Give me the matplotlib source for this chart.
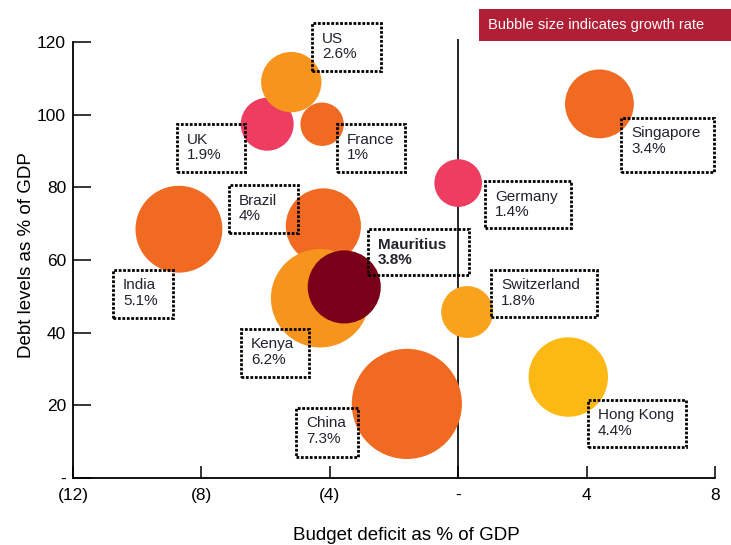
import matplotlib
matplotlib.use('Agg')
import matplotlib.pyplot as plt
from matplotlib.patches import Rectangle

plt.rcParams['font.family'] = ['Liberation Sans', 'DejaVu Sans']

# countries, budget balance (% of GDP), debt (% of GDP), growth (%)
countries = ['UK', 'US', 'France', 'India', 'Brazil', 'Kenya', 'Mauritius',
             'China', 'Germany', 'Singapore', 'Switzerland', 'Hong Kong']
deficit = [-5.95, -5.2, -4.24, -8.7, -4.2, -4.3, -3.55, -1.6, 0.0, 4.4, 0.28, 3.43]
debt = [97.4, 109, 97.4, 68.5, 69.4, 49.5, 52.6, 20.4, 81.2, 103, 45.7, 27.8]
growth = [1.9, 2.6, 1.0, 5.1, 4.0, 6.2, 3.8, 7.3, 1.4, 3.4, 1.8, 4.4]

colors = ['#EE3D60', '#F7941E', '#F06A22', '#F06A22', '#F06A22', '#F7941E',
          '#7A0019', '#F06A22', '#EE3D60', '#F06A22', '#F8A31B', '#FDB913']

# label box corners in data units: left, right, top, bottom
box_left = [-8.75, -4.55, -3.77, -10.75, -7.13, -6.76, -2.80, -5.05, 0.84, 5.08, 1.03, 4.05]
box_right = [-6.64, -2.40, -1.65, -8.88, -4.98, -4.64, 0.34, -3.12, 3.52, 7.98, 4.33, 7.10]
box_top = [97.4, 125.2, 97.4, 57.3, 80.6, 41.0, 68.5, 19.3, 81.7, 99.1, 57.3, 21.5]
box_bottom = [84.2, 112.0, 84.2, 44.0, 67.4, 27.8, 55.9, 5.8, 68.8, 84.2, 44.3, 8.5]

x_ticks = [-12, -8, -4, 0, 4, 8]
x_ticklabels = ['(12)', '(8)', '(4)', '-', '4', '8']
y_ticks = [0, 20, 40, 60, 80, 100, 120]
y_ticklabels = ['-', '20', '40', '60', '80', '100', '120']

W, H, DPI = 731, 545, 100
fig = plt.figure(figsize=(W / DPI, H / DPI), dpi=DPI)
ax = fig.add_axes([73 / W, 67 / H, 642 / W, 454 / H])
ax.set_xlim(-12, 8)
ax.set_ylim(0, 125)

# bubble radius grows linearly with growth rate (pixels -> points)
sizes = [(2 * (16.4 + 5.3 * g) * 72 / DPI) ** 2 for g in growth]
for x, y, s, c in zip(deficit, debt, sizes, colors):
    ax.scatter(x, y, s=s, color=c, edgecolors='none', zorder=3, clip_on=False)

ax.vlines(0, 0, 121, color='black', lw=1.2, zorder=2)

for name, g, l, r, t, b in zip(countries, growth, box_left, box_right, box_top, box_bottom):
    ax.add_patch(Rectangle((l, b), r - l, t - b, fill=False, edgecolor='black',
                           lw=2.0, linestyle=(0, (1, 0.6)), zorder=4, clip_on=False))
    ax.annotate(f'{name}\n{g:g}%', xy=(l, t), xytext=(7, -6), textcoords='offset points',
                ha='left', va='top', fontsize=11, color='#22222e', linespacing=1.15,
                fontweight='bold' if name == 'Mauritius' else 'normal', zorder=5,
                annotation_clip=False)

for side in ['top', 'right']:
    ax.spines[side].set_visible(False)
ax.spines['left'].set_bounds(0, 120)
ax.spines['bottom'].set_bounds(-12, 8)
for side in ['left', 'bottom']:
    ax.spines[side].set_linewidth(1.3)

ax.set_xticks(x_ticks)
ax.set_xticklabels(x_ticklabels)
ax.set_yticks(y_ticks)
ax.set_yticklabels(y_ticklabels)
ax.tick_params(axis='x', direction='in', length=8.6, width=1.1, pad=7, labelsize=12.5)
ax.tick_params(axis='y', direction='in', length=13, width=1.1, pad=5, labelsize=12.5)

fig.text(27 / W, 1 - 255 / H, 'Debt levels as % of GDP', rotation=90,
         ha='center', va='center', fontsize=13.5)
fig.text(406 / W, 1 - 536 / H, 'Budget deficit as % of GDP',
         ha='center', va='center', fontsize=13.5)

# growth-rate note in the top right corner
fig.patches.append(Rectangle((479 / W, 1 - 41 / H), (W - 479) / W, 32 / H,
                             transform=fig.transFigure, facecolor='#B01F35',
                             edgecolor='none'))
fig.text(488 / W, 1 - 25 / H, 'Bubble size indicates growth rate', color='white',
         ha='left', va='center', fontsize=10.5)

fig.savefig('out.png', dpi=DPI)
